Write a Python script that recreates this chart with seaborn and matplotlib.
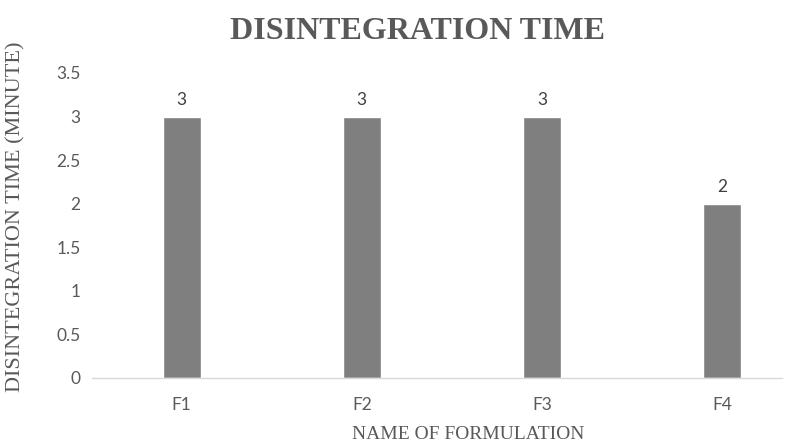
#%% packages
import matplotlib
matplotlib.use("Agg")
import matplotlib.pyplot as plt
import pandas as pd
import seaborn as sns

#%% data
formulations = ["F1", "F2", "F3", "F4"]
disintegration_min = [3, 3, 3, 2]
y_ticks = [0, 0.5, 1, 1.5, 2, 2.5, 3, 3.5]

df = pd.DataFrame({"formulation": formulations, "time": disintegration_min})

#%% plot
sns.set_style("white")
plt.rcParams["font.family"] = ["Lato", "DejaVu Sans"]

fig = plt.figure(figsize=(8.1, 4.45), dpi=100)
ax = fig.add_axes([0.113, 0.1506, 0.852, 0.6854])

sns.barplot(data=df, x="formulation", y="time", color="#7f7f7f",
            saturation=1, width=0.21, ax=ax)

ax.set_ylim(0, 3.5)
ax.set_xlim(-0.5, 3.33)
ax.set_yticks(y_ticks)
ax.set_yticklabels([f"{t:g}" for t in y_ticks])

ax.bar_label(ax.containers[0], fmt="%g", padding=6, fontsize=12.5, color="#404040")

for s in ["top", "right", "left"]:
    ax.spines[s].set_visible(False)
ax.spines["bottom"].set_color("#d9d9d9")
ax.spines["bottom"].set_linewidth(1)
ax.tick_params(axis="both", length=0, labelsize=12.5, labelcolor="#595959")
ax.tick_params(axis="x", pad=14)
ax.tick_params(axis="y", pad=8)

ax.set_xlabel("NAME OF FORMULATION", family="Liberation Serif", fontsize=14,
              color="#595959", labelpad=9, x=0.546)
ax.set_ylabel("DISINTEGRATION TIME (MINUTE)", family="Liberation Serif", fontsize=16,
              color="#595959")
ax.yaxis.set_label_coords(-0.095, 0.527)
fig.text(0.515, 0.93, "DISINTEGRATION TIME", ha="center", va="center",
         family="Liberation Serif", fontweight="bold", fontsize=23, color="#595959")

fig.savefig("out.png", dpi=100)
